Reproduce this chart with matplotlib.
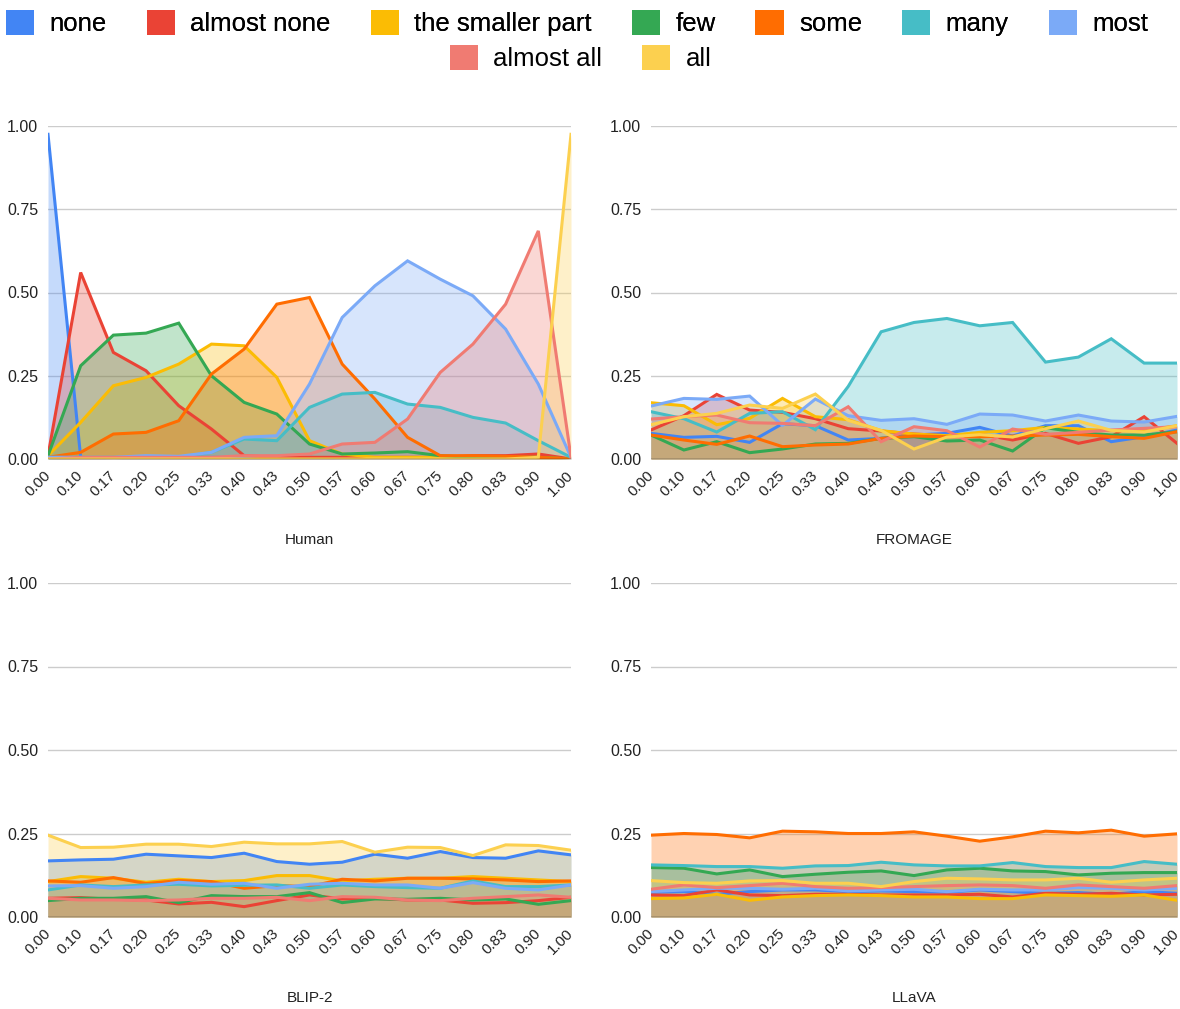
import numpy as np
import matplotlib
matplotlib.use('Agg')
import matplotlib.pyplot as plt
import matplotlib.transforms as mtransforms
from matplotlib.patches import Patch

plt.rcParams['font.family'] = ['Liberation Sans', 'DejaVu Sans']

# Категории по оси X
categories = ['0.00', '0.10', '0.17', '0.20', '0.25', '0.33', '0.40', '0.43', '0.50',
              '0.57', '0.60', '0.67', '0.75', '0.80', '0.83', '0.90', '1.00']
series_names = ['none', 'almost none', 'the smaller part', 'few', 'some',
                'many', 'most', 'almost all', 'all']
series_colors = ['#4285F4', '#EA4335', '#FBBC04', '#34A853', '#FF6D01',
                 '#46BDC6', '#7BAAF7', '#F07B72', '#FCD04F']
y_ticks = [0.0, 0.25, 0.5, 0.75, 1.0]

# Human
human_none = [0.975, 0.005, 0.0, 0.005, 0.005, 0.005, 0.005, 0.005, 0.005, 0.0, 0.0, 0.0, 0.0, 0.0, 0.0, 0.0, 0.0]
human_almost_none = [0.01, 0.56, 0.32, 0.265, 0.16, 0.09, 0.01, 0.005, 0.005, 0.005, 0.005, 0.005, 0.005, 0.01, 0.01, 0.015, 0.0]
human_smaller = [0.01, 0.11, 0.22, 0.245, 0.285, 0.345, 0.34, 0.245, 0.055, 0.015, 0.005, 0.005, 0.005, 0.005, 0.005, 0.005, 0.0]
human_few = [0.01, 0.28, 0.372, 0.378, 0.408, 0.25, 0.17, 0.135, 0.045, 0.015, 0.018, 0.022, 0.01, 0.005, 0.005, 0.005, 0.0]
human_some = [0.005, 0.02, 0.075, 0.08, 0.115, 0.255, 0.33, 0.465, 0.485, 0.285, 0.18, 0.065, 0.01, 0.01, 0.008, 0.005, 0.0]
human_many = [0.005, 0.005, 0.005, 0.005, 0.005, 0.02, 0.06, 0.055, 0.155, 0.195, 0.2, 0.165, 0.155, 0.125, 0.108, 0.055, 0.005]
human_most = [0.005, 0.005, 0.005, 0.01, 0.008, 0.02, 0.065, 0.07, 0.225, 0.425, 0.52, 0.595, 0.54, 0.49, 0.39, 0.225, 0.005]
human_almost_all = [0.0, 0.005, 0.005, 0.005, 0.005, 0.005, 0.01, 0.01, 0.015, 0.045, 0.05, 0.12, 0.26, 0.345, 0.465, 0.685, 0.005]
human_all = [0.0, 0.0, 0.0, 0.0, 0.0, 0.0, 0.0, 0.0, 0.0, 0.0, 0.0, 0.0, 0.0, 0.0, 0.0, 0.005, 0.975]

# FROMAGE
fromage_none = [0.077, 0.065, 0.068, 0.05, 0.106, 0.1, 0.057, 0.062, 0.072, 0.077, 0.095, 0.069, 0.1, 0.1, 0.052, 0.067, 0.087]
fromage_almost_none = [0.087, 0.13, 0.194, 0.147, 0.14, 0.121, 0.091, 0.084, 0.075, 0.07, 0.075, 0.057, 0.077, 0.047, 0.067, 0.127, 0.047]
fromage_smaller = [0.169, 0.16, 0.103, 0.122, 0.182, 0.127, 0.118, 0.085, 0.075, 0.07, 0.08, 0.085, 0.095, 0.09, 0.085, 0.085, 0.1]
fromage_few = [0.072, 0.027, 0.052, 0.019, 0.03, 0.045, 0.047, 0.062, 0.067, 0.054, 0.057, 0.024, 0.094, 0.08, 0.072, 0.072, 0.082]
fromage_some = [0.072, 0.057, 0.044, 0.069, 0.037, 0.042, 0.045, 0.062, 0.069, 0.067, 0.067, 0.069, 0.072, 0.074, 0.067, 0.062, 0.082]
fromage_many = [0.142, 0.121, 0.081, 0.137, 0.142, 0.088, 0.218, 0.382, 0.41, 0.422, 0.40, 0.41, 0.291, 0.306, 0.361, 0.288, 0.288]
fromage_most = [0.159, 0.182, 0.179, 0.189, 0.101, 0.18, 0.13, 0.116, 0.121, 0.104, 0.135, 0.132, 0.114, 0.132, 0.114, 0.111, 0.128]
fromage_almost_all = [0.12, 0.127, 0.132, 0.109, 0.107, 0.10, 0.157, 0.052, 0.097, 0.085, 0.036, 0.09, 0.074, 0.08, 0.087, 0.092, 0.097]
fromage_all = [0.103, 0.127, 0.137, 0.162, 0.152, 0.195, 0.116, 0.086, 0.03, 0.066, 0.073, 0.066, 0.091, 0.114, 0.086, 0.081, 0.10]

# BLIP-2
blip_none = [0.168, 0.171, 0.173, 0.188, 0.183, 0.178, 0.191, 0.166, 0.158, 0.164, 0.188, 0.176, 0.196, 0.178, 0.176, 0.198, 0.186]
blip_almost_none = [0.056, 0.058, 0.053, 0.051, 0.039, 0.044, 0.031, 0.049, 0.066, 0.054, 0.056, 0.051, 0.051, 0.041, 0.043, 0.049, 0.059]
blip_smaller = [0.106, 0.121, 0.116, 0.104, 0.113, 0.106, 0.109, 0.124, 0.124, 0.108, 0.113, 0.116, 0.116, 0.121, 0.116, 0.111, 0.106]
blip_few = [0.049, 0.056, 0.056, 0.061, 0.043, 0.064, 0.061, 0.061, 0.073, 0.043, 0.054, 0.053, 0.056, 0.051, 0.054, 0.038, 0.049]
blip_some = [0.108, 0.104, 0.118, 0.10, 0.109, 0.106, 0.086, 0.094, 0.091, 0.113, 0.108, 0.116, 0.116, 0.114, 0.111, 0.106, 0.108]
blip_many = [0.081, 0.096, 0.091, 0.096, 0.098, 0.093, 0.095, 0.096, 0.086, 0.096, 0.091, 0.088, 0.086, 0.108, 0.091, 0.091, 0.096]
blip_most = [0.093, 0.094, 0.086, 0.091, 0.104, 0.098, 0.101, 0.086, 0.098, 0.101, 0.096, 0.096, 0.086, 0.103, 0.086, 0.081, 0.096]
blip_almost_all = [0.056, 0.051, 0.051, 0.049, 0.051, 0.056, 0.056, 0.059, 0.049, 0.061, 0.059, 0.051, 0.049, 0.056, 0.061, 0.066, 0.059]
blip_all = [0.245, 0.208, 0.209, 0.218, 0.218, 0.211, 0.224, 0.219, 0.219, 0.226, 0.194, 0.209, 0.208, 0.184, 0.216, 0.214, 0.20]

# LLaVA
llava_none = [0.074, 0.076, 0.068, 0.076, 0.081, 0.081, 0.076, 0.078, 0.076, 0.074, 0.081, 0.076, 0.071, 0.073, 0.068, 0.076, 0.071]
llava_almost_none = [0.066, 0.064, 0.081, 0.066, 0.064, 0.068, 0.068, 0.066, 0.066, 0.066, 0.068, 0.06, 0.071, 0.068, 0.071, 0.066, 0.068]
llava_smaller = [0.055, 0.057, 0.068, 0.05, 0.06, 0.064, 0.066, 0.064, 0.06, 0.06, 0.055, 0.055, 0.066, 0.064, 0.062, 0.066, 0.05]
llava_few = [0.148, 0.146, 0.129, 0.141, 0.121, 0.128, 0.134, 0.138, 0.124, 0.141, 0.146, 0.138, 0.136, 0.126, 0.131, 0.133, 0.133]
llava_some = [0.245, 0.25, 0.247, 0.237, 0.257, 0.255, 0.25, 0.25, 0.255, 0.242, 0.227, 0.24, 0.257, 0.252, 0.26, 0.242, 0.249]
llava_many = [0.156, 0.154, 0.151, 0.151, 0.146, 0.153, 0.154, 0.164, 0.156, 0.153, 0.153, 0.163, 0.151, 0.148, 0.148, 0.166, 0.158]
llava_most = [0.076, 0.081, 0.086, 0.086, 0.083, 0.086, 0.078, 0.081, 0.083, 0.076, 0.083, 0.081, 0.081, 0.088, 0.086, 0.081, 0.086]
llava_almost_all = [0.083, 0.096, 0.088, 0.094, 0.101, 0.091, 0.086, 0.088, 0.091, 0.094, 0.096, 0.094, 0.086, 0.096, 0.091, 0.086, 0.094]
llava_all = [0.109, 0.103, 0.101, 0.108, 0.109, 0.101, 0.101, 0.091, 0.106, 0.116, 0.114, 0.111, 0.111, 0.116, 0.104, 0.111, 0.116]

panels = [
    ('Human', [human_none, human_almost_none, human_smaller, human_few, human_some,
               human_many, human_most, human_almost_all, human_all]),
    ('FROMAGE', [fromage_none, fromage_almost_none, fromage_smaller, fromage_few, fromage_some,
                 fromage_many, fromage_most, fromage_almost_all, fromage_all]),
    ('BLIP-2', [blip_none, blip_almost_none, blip_smaller, blip_few, blip_some,
                blip_many, blip_most, blip_almost_all, blip_all]),
    ('LLaVA', [llava_none, llava_almost_none, llava_smaller, llava_few, llava_some,
               llava_many, llava_most, llava_almost_all, llava_all]),
]

# Положение осей в долях фигуры (left, bottom, width, height)
W, H = 1180, 1009
boxes = [
    (48 / W, (H - 459) / H, 523 / W, 333 / H),
    (651 / W, (H - 459) / H, 526 / W, 333 / H),
    (48 / W, (H - 917) / H, 523 / W, 334 / H),
    (651 / W, (H - 917) / H, 526 / W, 334 / H),
]

fig = plt.figure(figsize=(W / 100, H / 100), dpi=100)
x = np.arange(len(categories))
shift = mtransforms.ScaledTranslation(0.1, 0, fig.dpi_scale_trans)

for (title, data), box in zip(panels, boxes):
    ax = fig.add_axes(box)
    for vals, color in zip(data, series_colors):
        ax.fill_between(x, 0, vals, color=color, alpha=0.3, linewidth=0, zorder=2)
    for vals, color in zip(data, series_colors):
        ax.plot(x, vals, color=color, linewidth=2.2, zorder=3, solid_joinstyle='miter')
    ax.set_xlim(0, len(categories) - 1)
    ax.set_ylim(0, 1.0)
    ax.set_yticks(y_ticks)
    ax.set_yticklabels([f'{v:.2f}' for v in y_ticks], fontsize=11.5, color='#222222')
    ax.set_xticks(x)
    ax.set_xticklabels(categories, rotation=45, ha='right', va='center',
                       rotation_mode='anchor', fontsize=11, color='#222222')
    for lbl in ax.get_xticklabels():
        lbl.set_transform(lbl.get_transform() + shift)
    ax.tick_params(axis='both', length=0)
    ax.tick_params(axis='y', pad=7)
    ax.tick_params(axis='x', pad=10)
    for v in y_ticks[1:]:
        ax.axhline(v, color='#cccccc', linewidth=1, zorder=1)
    ax.axhline(0, color='#333333', linewidth=1, zorder=4)
    for s in ax.spines.values():
        s.set_visible(False)
    ax.text(0.5, -81 / 333, title, transform=ax.transAxes, ha='center', va='center',
            fontsize=11, color='#222222')

# Легенда в две строки
handles = [Patch(facecolor=c, edgecolor='none') for c in series_colors]
leg1 = fig.legend(handles[:7], series_names[:7], loc='center', bbox_to_anchor=(0.489, 1 - 23 / H),
                  ncol=7, frameon=False, fontsize=18.5, handlelength=1.1, handleheight=1.1,
                  handletextpad=0.6, columnspacing=1.55)
fig.add_artist(leg1)
fig.legend(handles[7:], series_names[7:], loc='center', bbox_to_anchor=(0.492, 1 - 58 / H),
           ncol=2, frameon=False, fontsize=18.5, handlelength=1.1, handleheight=1.1,
           handletextpad=0.6, columnspacing=1.55)

fig.savefig('out.png', dpi=100)
